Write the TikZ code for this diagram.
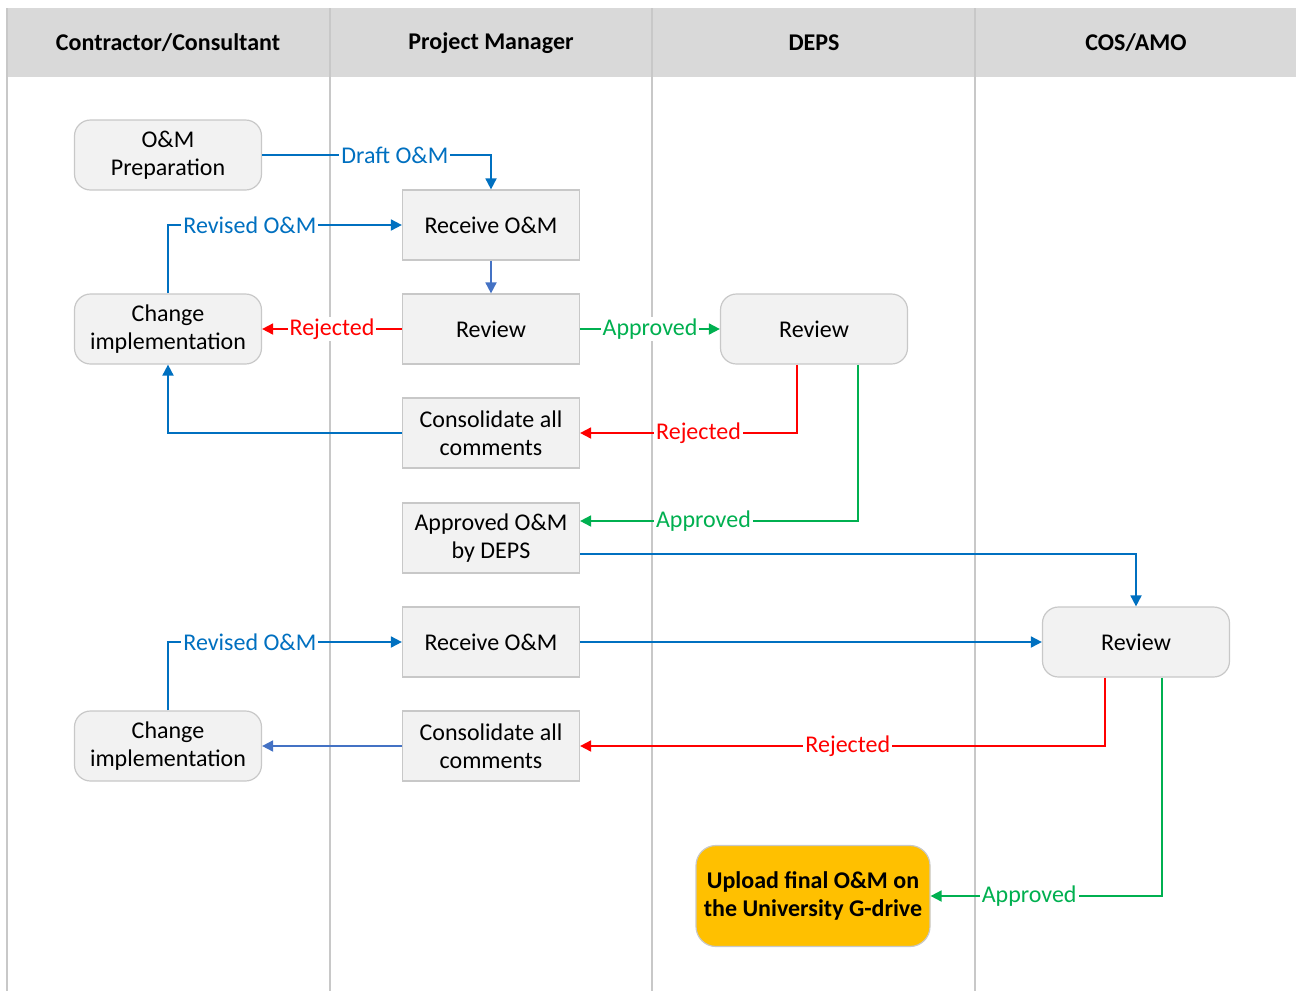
\documentclass[tikz,border=0pt]{standalone}
\usepackage{fontspec}
\setmainfont{Carlito}
\usetikzlibrary{arrows.meta}

\definecolor{lanegray}{HTML}{D9D9D9}
\definecolor{linegray}{HTML}{C8C8C8}
\definecolor{boxfill}{HTML}{F2F2F2}
\definecolor{flowblue}{HTML}{0070C0}
\definecolor{softblue}{HTML}{4472C4}
\definecolor{flowred}{HTML}{FF0000}
\definecolor{flowgreen}{HTML}{00B050}
\definecolor{gold}{HTML}{FFC000}

\begin{document}
\begin{tikzpicture}[x=0.5pt,y=-0.5pt,
  every node/.style={font=\fontsize{12}{14}\selectfont},
  lanehead/.style={font=\fontsize{12}{14}\selectfont\bfseries},
  task/.style={rectangle, draw=linegray, fill=boxfill, line width=0.6pt,
          minimum width=88.5pt, minimum height=35pt, align=center, inner sep=2pt},
  event/.style={task, rounded corners=8pt, minimum width=93.5pt},
  flow/.style={line width=0.9pt, -{Triangle[length=5.5pt,width=5.5pt]}},
  lbl/.style={fill=white, inner sep=1pt}]
\useasboundingbox (0,0) rectangle (1296,991);

% swimlanes
\fill[lanegray] (7,8) rectangle (1296,78);
\draw[white, line width=0.6pt] (7,78) -- (1296,78);
\draw[linegray, line width=0.8pt] (7,8) -- (7,991);
\foreach \x in {330,652,975}
  \draw[linegray, line width=0.8pt] (\x,8) -- (\x,991);

\node[lanehead] (hcon) at (168,43) {Contractor/Consultant};
\node[lanehead] (hpm) at (491,43) {Project Manager};
\node[lanehead] (hdeps) at (814,43) {DEPS};
\node[lanehead] (hcos) at (1136,43) {COS/AMO};

% nodes
\node[event] (prep) at (168,155) {O\&M\\Preparation};
\node[task] (recv1) at (491,225) {Receive O\&M};
\node[event] (chg1) at (168,329) {Change\\implementation};
\node[task] (rev1) at (491,329) {Review};
\node[event] (deps) at (814,329) {Review};
\node[task] (cons1) at (491,433) {Consolidate all\\comments};
\node[task] (appr) at (491,538) {Approved O\&M\\by DEPS};
\node[task] (recv2) at (491,642) {Receive O\&M};
\node[event] (cos) at (1136,642) {Review};
\node[event] (chg2) at (168,746) {Change\\implementation};
\node[task] (cons2) at (491,746) {Consolidate all\\comments};
\node[event, fill=gold, rounded corners=10pt, minimum width=117pt, minimum height=50.5pt,
      font=\fontsize{12}{14}\selectfont\bfseries] (upload) at (813,896)
      {Upload final O\&M on\\the University G-drive};

% connectors
\draw[flow, flowblue] (prep.east) -| node[lbl, pos=0.29] {Draft O\&M} (recv1.north);
\draw[flow, flowblue] (chg1.north) |- node[lbl, pos=0.675] {Revised O\&M} (recv1.west);
\draw[flow, softblue] (recv1) -- (rev1);
\draw[flow, flowred] (rev1.west) -- node[lbl] {Rejected} (chg1.east);
\draw[flow, flowgreen] (rev1.east) -- node[lbl] {Approved} (deps.west);
\draw[flow, flowred] ([xshift=-8.5pt]deps.south) |- node[lbl, pos=0.727] {Rejected} (cons1.east);
\draw[flow, flowgreen] ([xshift=22pt]deps.south) |- node[lbl, pos=0.778] {Approved} ([yshift=8.5pt]appr.east);
\draw[flow, flowblue] (cons1.west) -| (chg1.south);
\draw[flow, flowblue] ([yshift=-8pt]appr.east) -| (cos.north);
\draw[flow, flowblue] (recv2.east) -- (cos.west);
\draw[flow, flowblue] (chg2.north) |- node[lbl, pos=0.675] {Revised O\&M} (recv2.west);
\draw[flow, softblue] (cons2.west) -- (chg2.east);
\draw[flow, flowred] ([xshift=-15.5pt]cos.south) |- node[lbl, pos=0.745] {Rejected} (cons2.east);
\draw[flow, flowgreen] ([xshift=13pt]cos.south) |- node[lbl, pos=0.787] {Approved} (upload.east);
\end{tikzpicture}
\end{document}
